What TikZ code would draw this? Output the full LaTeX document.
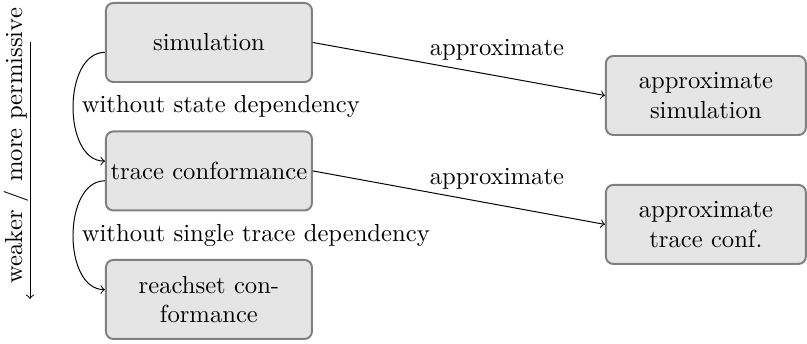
\documentclass[tikz,border=0pt]{standalone}
\usepackage{amsmath}
\usepackage{tikz}

\begin{document}
\begin{tikzpicture}[
  relbox/.style={draw=gray, thick, fill=gray!20, rounded corners=3pt,
    align=center, inner xsep=1.5pt, minimum width=2.938cm, minimum height=1.127cm},
  apxbox/.style={relbox, minimum width=2.852cm}]
\useasboundingbox (0,0) rectangle (11.51,-4.905);

\node[relbox] (sim) at (2.980,-0.606) {simulation};
\node[relbox] (trace) at (2.980,-2.438) {trace conformance};
\node[relbox] (reach) at (2.980,-4.271) {reachset con-\\formance};

\node[apxbox] (asim) at (10.068,-1.362) {approximate\\simulation};
\node[apxbox] (atrace) at (10.068,-3.201) {approximate\\trace conf.};

\draw[->] (sim.east) -- (asim.west) node[pos=0.63, above=1mm] {approximate};
\draw[->] (trace.east) -- (atrace.west) node[pos=0.63, above=1mm] {approximate};

\draw[->] ([yshift=-4pt]sim.west) to[out=180, in=180]
  node[midway, right=0pt] {without state dependency} ([yshift=4pt]trace.west);
\draw[->] ([yshift=-4pt]trace.west) to[out=180, in=180]
  node[midway, right=0pt] {without single trace dependency} ([yshift=4pt]reach.west);

\coordinate (top) at (0.428,-0.599);
\coordinate (bottom) at (0.428,-4.264);
\draw[->] (top) -- (bottom);
\node[rotate=90] (order) at (0.228,-2.08) {weaker / more permissive};
\end{tikzpicture}
\end{document}
